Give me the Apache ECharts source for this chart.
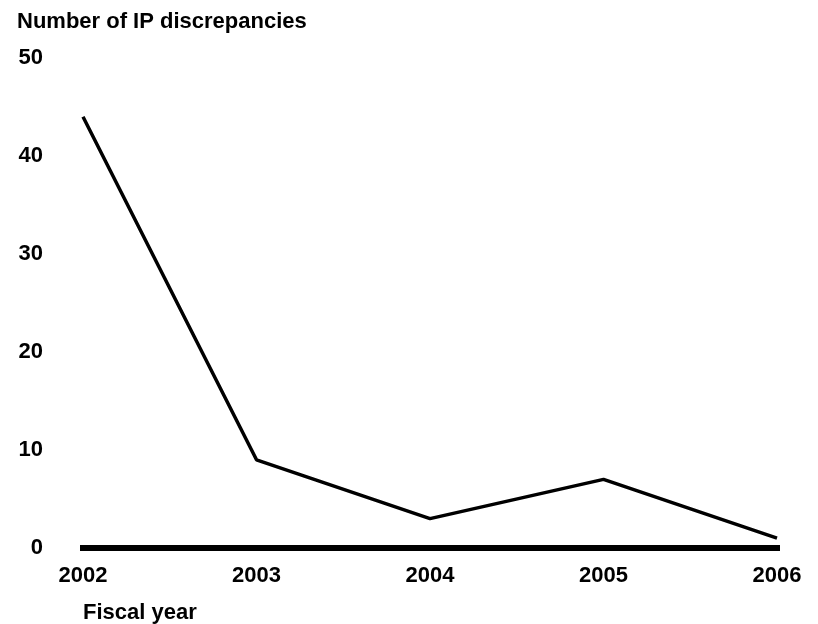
<!DOCTYPE html>
<html>
<head>
<meta charset="utf-8">
<script src="https://cdn.jsdelivr.net/npm/echarts@6/dist/echarts.min.js"></script>
<style>html,body{margin:0;padding:0;background:#fff}#c{width:818px;height:624px}</style>
</head>
<body>
<div id="c"></div>
<script>
const categories = ['2002', '2003', '2004', '2005', '2006'];
const discrepancies = [44, 9, 3, 7, 1];
const yTicks = [0, 10, 20, 30, 40, 50];

const FONT = '"Liberation Sans", Arial, Helvetica, sans-serif';
const chart = echarts.init(document.getElementById('c'));
chart.setOption({
  backgroundColor: '#fff',
  animation: false,
  title: [
    { text: 'Number of IP discrepancies', left: 12, top: 6,
      textStyle: { fontFamily: FONT, fontWeight: 'bold', fontSize: 22, color: '#000' } },
    { text: 'Fiscal year', left: 78, top: 597,
      textStyle: { fontFamily: FONT, fontWeight: 'bold', fontSize: 22, color: '#000' } }
  ],
  grid: { left: 83, right: 41, top: 58, bottom: 76, containLabel: false },
  xAxis: {
    type: 'category',
    data: categories,
    boundaryGap: false,
    axisLine: { show: true, lineStyle: { color: '#000', width: 6, cap: 'square' } },
    axisTick: { show: false },
    axisLabel: { margin: 17, fontFamily: FONT, fontWeight: 'bold', fontSize: 22, color: '#000' },
    splitLine: { show: false }
  },
  yAxis: {
    type: 'value',
    min: yTicks[0],
    max: yTicks[yTicks.length - 1],
    interval: 10,
    axisLine: { show: false },
    axisTick: { show: false },
    splitLine: { show: false },
    axisLabel: { margin: 40, fontFamily: FONT, fontWeight: 'bold', fontSize: 22, color: '#000' }
  },
  series: [{
    type: 'line',
    data: discrepancies,
    showSymbol: false,
    symbol: 'none',
    lineStyle: { color: '#000', width: 3.5 },
    z: 3
  }]
});
</script>
</body>
</html>
